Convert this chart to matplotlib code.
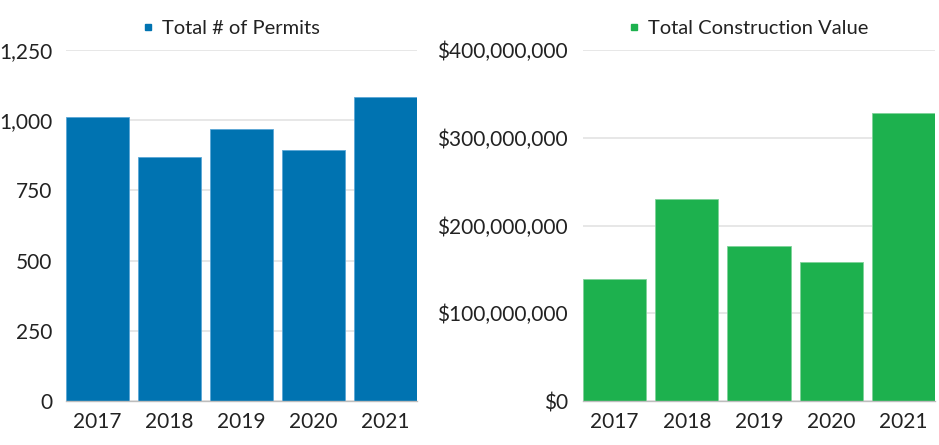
import matplotlib
matplotlib.use("Agg")
import matplotlib.pyplot as plt
from matplotlib.ticker import FuncFormatter
from matplotlib.lines import Line2D

plt.rcParams['font.family'] = ['Lato', 'DejaVu Sans']

years = ["2017", "2018", "2019", "2020", "2021"]
permits = [1012, 868, 968, 894, 1082]
construction_value = [139_400_000, 229_800_000, 177_000_000, 158_800_000, 328_500_000]
permit_ticks = [0, 250, 500, 750, 1000, 1250]
value_ticks = [0, 100_000_000, 200_000_000, 300_000_000, 400_000_000]

blue = "#0073B1"
green = "#1DB14E"
text_c = "#222222"
grid_c = "#E3E3E3"

fig = plt.figure(figsize=(9.39, 4.45), dpi=100)
ax1 = fig.add_axes([66/939, 44/445, 351/939, 351/445])
ax2 = fig.add_axes([583/939, 44/445, 352/939, 351/445])

W = 0.875

def style(ax, ticks, fmt, label, color, padl, anchor):
    ax.set_xlim(-W/2, len(years) - 1 + W/2)
    ax.set_ylim(ticks[0], ticks[-1])
    ax.set_yticks(ticks)
    ax.yaxis.set_major_formatter(FuncFormatter(fmt))
    ax.grid(axis='y', color=grid_c, linewidth=1.2)
    ax.set_axisbelow(True)
    for s in ['top', 'right', 'left']:
        ax.spines[s].set_visible(False)
    ax.spines['bottom'].set_color('#BDBDBD')
    ax.spines['bottom'].set_linewidth(1.0)
    ax.tick_params(axis='both', length=0, labelsize=15, colors=text_c)
    ax.tick_params(axis='y', pad=padl)
    ax.tick_params(axis='x', pad=8)
    h = Line2D([], [], marker='s', linestyle='none', color=color, markersize=5)
    ax.legend([h], [label], loc='lower center', bbox_to_anchor=(anchor, 1.0),
              frameon=False, fontsize=14.5, handlelength=0.5, handletextpad=0.45,
              borderaxespad=0.25, labelcolor=text_c)

x = range(len(years))
ax1.bar(x, permits, width=W, color=blue, edgecolor="#5AA7D6", linewidth=0.6)
ax1.set_xticks(list(x))
ax1.set_xticklabels(years)
style(ax1, permit_ticks, lambda v, p: f"{int(v):,}", "Total # of Permits", blue, 10, 0.47)

ax2.bar(x, construction_value, width=W, color=green, edgecolor="#7FD39A", linewidth=0.6)
ax2.set_xticks(list(x))
ax2.set_xticklabels(years)
style(ax2, value_ticks, lambda v, p: f"${int(v):,}", "Total Construction Value", green, 11, 0.47)

fig.savefig("out.png", dpi=100)
